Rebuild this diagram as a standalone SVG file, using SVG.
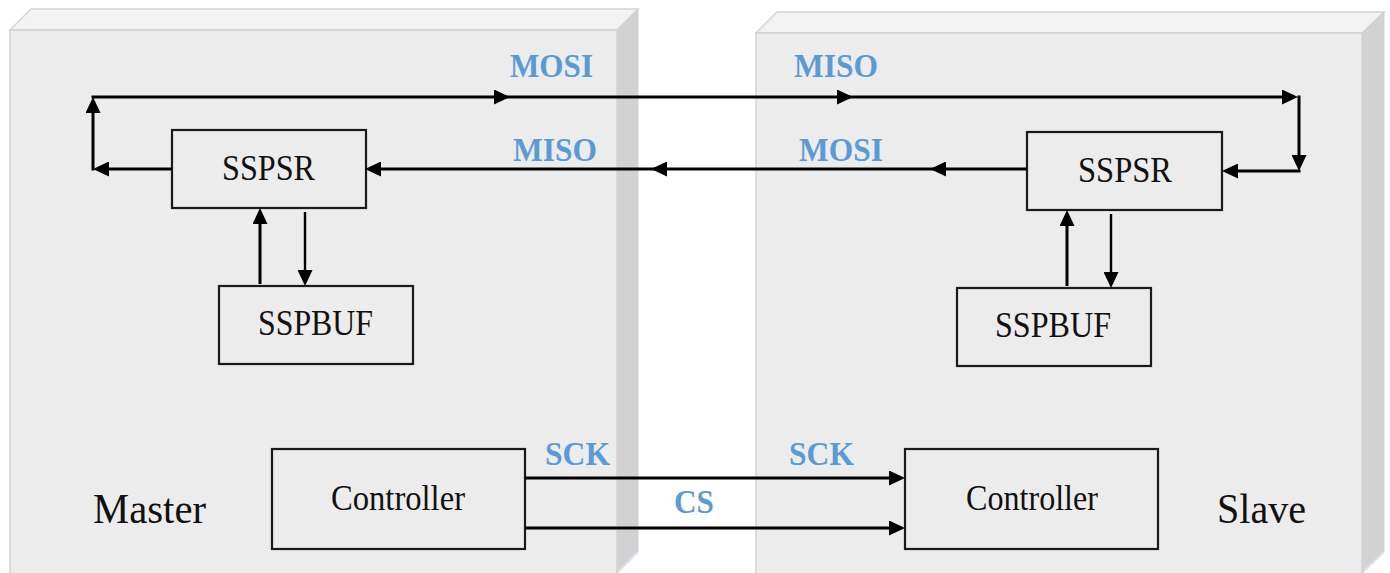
<svg xmlns="http://www.w3.org/2000/svg" width="1390" height="573" viewBox="0 0 1390 573">
<style>
.front{fill:#ececec;stroke:#d4d4d4;stroke-width:1.5}
.top{fill:#f3f3f3;stroke:#d4d4d4;stroke-width:1.5}
.side{fill:#d2d2d2;stroke:#d0d0d0;stroke-width:1}
.box{fill:none;stroke:#1a1a1a;stroke-width:2.2}
.lbl{font-family:"Liberation Serif","Times New Roman",serif;fill:#111;text-anchor:middle}
.big{font-family:"Liberation Serif","Times New Roman",serif;fill:#111}
.sig{font-family:"Liberation Serif","Times New Roman",serif;font-weight:bold;fill:#5b9bd5;font-size:34px}
.wire{stroke:#000;stroke-width:3;fill:none;marker-end:url(#ah)}
.wire2{stroke:#000;stroke-width:2.4;fill:none;marker-end:url(#ah)}
</style>
<defs>
<marker id="ah" markerUnits="userSpaceOnUse" markerWidth="17" markerHeight="15" refX="12" refY="7.5" orient="auto">
<path d="M0,0 L16,7.5 L0,15 z" fill="#000"/>
</marker>
</defs>
<rect width="1390" height="573" fill="#fff"/>
<g id="master-panel">
<polygon class="top" points="10,30 31,9 638,9 617,30"/>
<polygon class="side" points="617,30 638,9 638,552 617,573"/>
<line x1="638" y1="552" x2="617" y2="573" stroke="#d6e4f2" stroke-width="2"/>
<rect class="front" x="10" y="30" width="607" height="545"/>
<text class="big" x="93" y="523" font-size="42" textLength="113" lengthAdjust="spacingAndGlyphs">Master</text>
</g>
<g id="slave-panel">
<polygon class="top" points="756,33 777,12 1384,12 1362,33"/>
<polygon class="side" points="1362,33 1384,12 1384,552 1362,573"/>
<line x1="1384" y1="552" x2="1362" y2="573" stroke="#d6e4f2" stroke-width="2"/>
<rect class="front" x="756" y="33" width="606" height="542"/>
<text class="big" x="1217" y="523" font-size="42" textLength="89" lengthAdjust="spacingAndGlyphs">Slave</text>
</g>
<g id="master-sspsr">
<rect class="box" x="172" y="130" width="194" height="78"/>
<text class="lbl" x="268.5" y="180" font-size="36" textLength="93" lengthAdjust="spacingAndGlyphs">SSPSR</text>
</g>
<g id="master-sspbuf">
<rect class="box" x="219" y="286" width="194" height="78"/>
<text class="lbl" x="315.5" y="335" font-size="35" textLength="115" lengthAdjust="spacingAndGlyphs">SSPBUF</text>
</g>
<g id="master-controller">
<rect class="box" x="272" y="449" width="253" height="100"/>
<text class="lbl" x="398" y="510" font-size="35" textLength="134" lengthAdjust="spacingAndGlyphs">Controller</text>
</g>
<g id="slave-sspsr">
<rect class="box" x="1027" y="132" width="195" height="78"/>
<text class="lbl" x="1125" y="182" font-size="36" textLength="94" lengthAdjust="spacingAndGlyphs">SSPSR</text>
</g>
<g id="slave-sspbuf">
<rect class="box" x="957" y="288" width="194" height="78"/>
<text class="lbl" x="1053" y="337" font-size="35" textLength="116" lengthAdjust="spacingAndGlyphs">SSPBUF</text>
</g>
<g id="slave-controller">
<rect class="box" x="905" y="449" width="253" height="100"/>
<text class="lbl" x="1032" y="510" font-size="35" textLength="132" lengthAdjust="spacingAndGlyphs">Controller</text>
</g>
<g id="connectors">
<line class="wire" x1="172" y1="169" x2="97" y2="169"/>
<line class="wire" x1="93" y1="170.5" x2="93" y2="101"/>
<line class="wire" x1="91.5" y1="97" x2="506" y2="97"/>
<line class="wire" x1="505" y1="97" x2="849" y2="97"/>
<line class="wire" x1="848" y1="97" x2="1294" y2="97"/>
<line class="wire" x1="1299" y1="95.5" x2="1299" y2="167"/>
<line class="wire" x1="1300.5" y1="171" x2="1226" y2="171"/>
<line class="wire" x1="1027" y1="169" x2="934" y2="169"/>
<line class="wire" x1="935" y1="169" x2="655" y2="169"/>
<line class="wire" x1="656" y1="169" x2="369" y2="169"/>
<line class="wire" x1="260" y1="284" x2="260" y2="212"/>
<line class="wire2" x1="305" y1="212" x2="305" y2="282"/>
<line class="wire" x1="1067" y1="286" x2="1067" y2="214"/>
<line class="wire2" x1="1111" y1="214" x2="1111" y2="284"/>
<line class="wire" x1="525" y1="478" x2="901" y2="478"/>
<line class="wire" x1="525" y1="528" x2="901" y2="528"/>
</g>
<g id="labels">
<text class="sig" x="510" y="77" textLength="83" lengthAdjust="spacingAndGlyphs">MOSI</text>
<text class="sig" x="513" y="161" textLength="84" lengthAdjust="spacingAndGlyphs">MISO</text>
<text class="sig" x="794" y="77" textLength="84" lengthAdjust="spacingAndGlyphs">MISO</text>
<text class="sig" x="799" y="161" textLength="84" lengthAdjust="spacingAndGlyphs">MOSI</text>
<text class="sig" x="545" y="465" textLength="65" lengthAdjust="spacingAndGlyphs">SCK</text>
<text class="sig" x="789" y="465" textLength="65" lengthAdjust="spacingAndGlyphs">SCK</text>
<text class="sig" x="674" y="513" textLength="40" lengthAdjust="spacingAndGlyphs">CS</text>
</g>
</svg>
